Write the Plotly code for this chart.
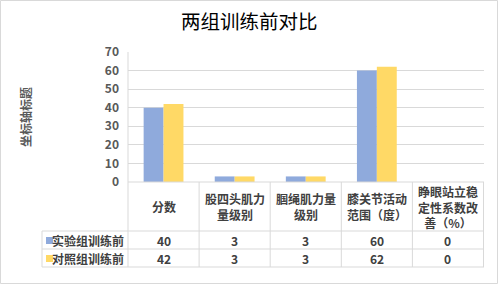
import plotly.graph_objects as go

categories = ["分数", "股四头肌力量级别", "腘绳肌力量级别", "膝关节活动范围（度）", "睁眼站立稳定性系数改善（%）"]
header_labels = ["分数", "股四头肌力<br>量级别", "腘绳肌力量<br>级别", "膝关节活动<br>范围（度）", "睁眼站立稳<br>定性系数改<br>善（%）"]
series_names = ["实验组训练前", "对照组训练前"]
exp_values = [40, 3, 3, 60, 0]
ctl_values = [42, 3, 3, 62, 0]
colors = ["#8FAADC", "#FFD966"]
y_ticks = [0, 10, 20, 30, 40, 50, 60, 70]

W, H = 500, 284
L, R, T, B = 128, 484, 52, 182
PW, PH = R - L, B - T

def px_x(x):
    return (x - L) / PW

def px_y(y):
    return (B - y) / PH

font_family = "Noto Sans CJK SC, Noto Sans, sans-serif"
txt_color = "#404040"
line_color = "#D9D9D9"

fig = go.Figure()
for name, vals, c in zip(series_names, [exp_values, ctl_values], colors):
    fig.add_trace(go.Bar(x=categories, y=vals, name=name, marker=dict(color=c, line=dict(width=0)),
                         showlegend=False))

shapes = []
annotations = []

# table horizontal lines
row_lines = [182, 231, 249, 267]
for i, yy in enumerate(row_lines):
    x0 = px_x(128) if i == 0 else px_x(42)
    shapes.append(dict(type="line", xref="paper", yref="paper", x0=x0, x1=1, y0=px_y(yy), y1=px_y(yy),
                       line=dict(color=line_color, width=1)))
# vertical lines
shapes.append(dict(type="line", xref="paper", yref="paper", x0=0, x1=0, y0=1, y1=px_y(267),
                   line=dict(color=line_color, width=1)))
shapes.append(dict(type="line", xref="paper", yref="paper", x0=px_x(42), x1=px_x(42), y0=px_y(231), y1=px_y(267),
                   line=dict(color=line_color, width=1)))
for i in range(len(categories)):
    shapes.append(dict(type="line", xref="x", yref="paper", x0=i + 0.5, x1=i + 0.5, y0=0, y1=px_y(267),
                       line=dict(color=line_color, width=1)))

# header labels
for cat, lab in zip(categories, header_labels):
    annotations.append(dict(x=cat, xref="x", y=px_y(206.5), yref="paper", text=lab, showarrow=False,
                            font=dict(family=font_family, size=12, color=txt_color, weight="bold"),
                            align="center", xanchor="center", yanchor="middle"))
# data rows
row_centers = [240.5, 258.5]
for rc, vals, name, c in zip(row_centers, [exp_values, ctl_values], series_names, colors):
    for cat, v in zip(categories, vals):
        annotations.append(dict(x=cat, xref="x", y=px_y(rc), yref="paper", text=str(v), showarrow=False,
                                font=dict(family=font_family, size=12, color=txt_color, weight="bold"),
                                xanchor="center", yanchor="middle"))
    annotations.append(dict(x=px_x(126), xref="paper", y=px_y(rc), yref="paper", text=name, showarrow=False,
                            font=dict(family=font_family, size=12, color=txt_color, weight="bold"),
                            xanchor="right", yanchor="middle"))
    shapes.append(dict(type="rect", xref="paper", yref="paper", x0=px_x(46), x1=px_x(53),
                       y0=px_y(rc - 3.5), y1=px_y(rc + 3.5), fillcolor=c, line=dict(width=0)))

# y axis title
annotations.append(dict(x=px_x(25), xref="paper", y=px_y(117), yref="paper", text="坐标轴标题", textangle=-90,
                        showarrow=False, font=dict(family=font_family, size=12, color="#595959", weight="bold"),
                        xanchor="center", yanchor="middle"))
# chart title
annotations.append(dict(x=px_x(249), xref="paper", y=px_y(20), yref="paper", text="两组训练前对比",
                        showarrow=False, font=dict(family=font_family, size=19.5, color="#000000"),
                        xanchor="center", yanchor="middle"))
# outer border
shapes.append(dict(type="rect", xref="paper", yref="paper", x0=px_x(0.5), x1=px_x(497.5), y0=px_y(0.5), y1=px_y(283.5),
                   line=dict(color=line_color, width=1), fillcolor="rgba(0,0,0,0)"))

fig.update_layout(
    width=W, height=H,
    margin=dict(l=L, r=W - R, t=T, b=H - B, pad=0),
    paper_bgcolor="white", plot_bgcolor="white",
    barmode="group", bargap=0.44, bargroupgap=0,
    shapes=shapes, annotations=annotations,
    xaxis=dict(showticklabels=False, ticks="", showgrid=False, zeroline=False, showline=False, fixedrange=True),
    yaxis=dict(range=[0, 70], tickvals=y_ticks, showgrid=True, gridcolor=line_color, gridwidth=1,
               zeroline=False, showline=False, ticks="", ticklabelstandoff=8,
               tickfont=dict(family=font_family, size=12, color="#595959", weight="bold")),
    font=dict(family=font_family),
)

fig.write_html("out.html")
